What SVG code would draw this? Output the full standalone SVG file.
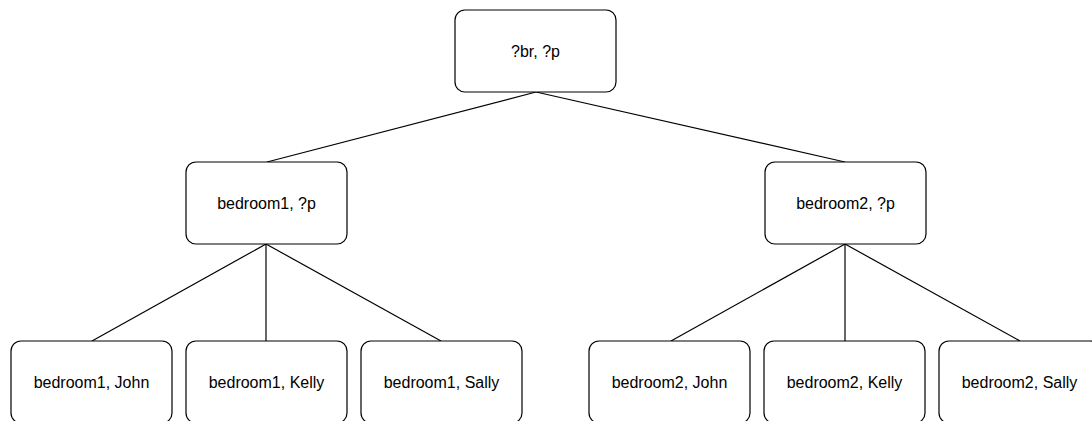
<svg xmlns="http://www.w3.org/2000/svg" width="1092" height="421" viewBox="0 0 1092 421">
  <style>
    .box { fill: #ffffff; stroke: #000000; stroke-width: 1.2; }
    .label { font-family: "Liberation Sans", Arial, Helvetica, sans-serif; font-size: 16px; fill: #000000; text-anchor: middle; }
    .edge { stroke: #000000; stroke-width: 1.2; fill: none; }
  </style>
  <rect width="1092" height="421" fill="#ffffff"/>

  <!-- connectors -->
  <g id="connectors">
    <line class="edge" x1="536" y1="92" x2="267" y2="162"/>
    <line class="edge" x1="536" y1="92" x2="845" y2="162"/>
    <line class="edge" x1="266" y1="244" x2="92" y2="341"/>
    <line class="edge" x1="266" y1="244" x2="266" y2="341"/>
    <line class="edge" x1="266" y1="244" x2="441" y2="341"/>
    <line class="edge" x1="845" y1="244" x2="671" y2="341"/>
    <line class="edge" x1="845" y1="244" x2="845" y2="341"/>
    <line class="edge" x1="845" y1="244" x2="1020" y2="341"/>
  </g>

  <!-- root -->
  <g id="root">
    <rect class="box" x="455" y="10" width="161" height="82" rx="10"/>
    <text class="label" x="535.5" y="56.5">?br, ?p</text>
  </g>

  <!-- second level -->
  <g id="bedroom1">
    <rect class="box" x="186" y="162" width="161" height="82" rx="10"/>
    <text class="label" x="266.5" y="208.5">bedroom1, ?p</text>
  </g>
  <g id="bedroom2">
    <rect class="box" x="765" y="162" width="161" height="82" rx="10"/>
    <text class="label" x="845.5" y="208.5">bedroom2, ?p</text>
  </g>

  <!-- leaves -->
  <g id="bedroom1-john">
    <rect class="box" x="11" y="341" width="161" height="82" rx="10"/>
    <text class="label" x="91.5" y="387.5">bedroom1, John</text>
  </g>
  <g id="bedroom1-kelly">
    <rect class="box" x="186" y="341" width="161" height="82" rx="10"/>
    <text class="label" x="266.5" y="387.5">bedroom1, Kelly</text>
  </g>
  <g id="bedroom1-sally">
    <rect class="box" x="361" y="341" width="161" height="82" rx="10"/>
    <text class="label" x="441.5" y="387.5">bedroom1, Sally</text>
  </g>
  <g id="bedroom2-john">
    <rect class="box" x="589" y="341" width="161" height="82" rx="10"/>
    <text class="label" x="669.5" y="387.5">bedroom2, John</text>
  </g>
  <g id="bedroom2-kelly">
    <rect class="box" x="764" y="341" width="161" height="82" rx="10"/>
    <text class="label" x="844.5" y="387.5">bedroom2, Kelly</text>
  </g>
  <g id="bedroom2-sally">
    <rect class="box" x="939" y="341" width="161" height="82" rx="10"/>
    <text class="label" x="1019.5" y="387.5">bedroom2, Sally</text>
  </g>
</svg>
